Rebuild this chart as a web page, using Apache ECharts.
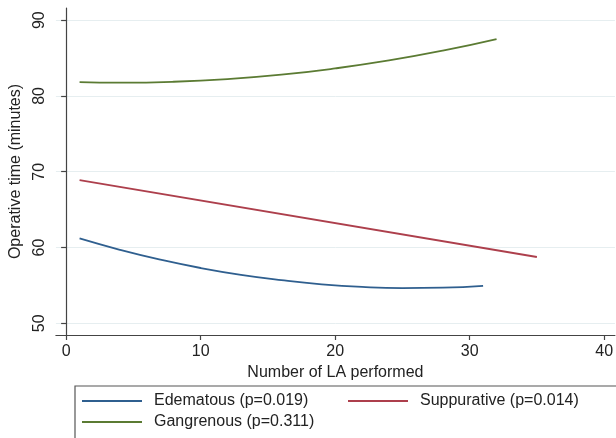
<!DOCTYPE html>
<html>
<head>
<meta charset="utf-8">
<style>
  html, body { margin: 0; padding: 0; background: #fff; }
  #chart { width: 616px; height: 438px; }
</style>
<script src="https://cdn.jsdelivr.net/npm/echarts@6/dist/echarts.min.js"></script>
</head>
<body>
<div id="chart"></div>
<script>
// values
const edemaX = [1, 4, 7, 10, 13, 16, 19, 22, 25, 28, 31]
const edemaY = [61.2, 59.7, 58.4, 57.3, 56.4, 55.7, 55.15, 54.8, 54.65, 54.7, 54.95]
const suppX = [1, 35]
const suppY = [68.9, 58.75]
const gangX = [1, 4, 8, 12, 16, 20, 24, 28, 32]
const gangY = [81.82, 81.75, 81.87, 82.22, 82.8, 83.63, 84.68, 85.97, 87.5]

const xTicks = [0, 10, 20, 30, 40]
const yTicks = [50, 60, 70, 80, 90]

const names = ['Edematous (p=0.019)', 'Suppurative (p=0.014)', 'Gangrenous (p=0.311)']
const colors = ['#2f5f8f', '#ad3f4c', '#5b7b33']

const font = "'Liberation Sans', Arial, sans-serif"

function pairs (xs, ys) {
  return xs.map((x, i) => [x, ys[i]])
}

const chart = echarts.init(document.getElementById('chart'))

const legendText = {fontSize: 16, color: '#222', lineHeight: 18, padding: [0, 0, 0, 7], fontFamily: font}

const option = {
  animation: false,
  color: colors,
  textStyle: {fontFamily: font},
  grid: {
    left: 53,
    right: 0,
    top: 8,
    bottom: 103
  },
  xAxis: {
    type: 'value',
    min: -0.76,
    max: 40.8,
    name: 'Number of LA performed',
    nameLocation: 'middle',
    nameGap: 25,
    nameTextStyle: {fontSize: 16, color: '#222', fontFamily: font},
    axisLine: {lineStyle: {color: '#444', width: 1.2}},
    axisTick: {show: true, length: 5, customValues: xTicks, lineStyle: {color: '#444', width: 1.2}},
    axisLabel: {customValues: xTicks, fontSize: 16, color: '#222', margin: 9, fontFamily: font},
    splitLine: {show: false}
  },
  yAxis: {
    type: 'value',
    min: 48.46,
    max: 91.6,
    name: 'Operative time (minutes)',
    nameLocation: 'middle',
    nameGap: 30,
    nameTextStyle: {fontSize: 16, color: '#222', fontFamily: font},
    axisLine: {show: true, lineStyle: {color: '#444', width: 1.2}},
    axisTick: {show: true, length: 5, customValues: yTicks, lineStyle: {color: '#444', width: 1.2}},
    axisLabel: {customValues: yTicks, rotate: 90, fontSize: 16, color: '#222', margin: 8, fontFamily: font},
    splitLine: {show: true, lineStyle: {color: '#e6eef0', width: 1}}
  },
  legend: [
    {
      left: 82,
      top: 392,
      padding: 0,
      orient: 'vertical',
      itemGap: 3,
      itemWidth: 60,
      itemHeight: 2,
      icon: 'rect',
      data: [names[0], names[2]],
      textStyle: legendText
    },
    {
      left: 348,
      top: 392,
      padding: 0,
      orient: 'vertical',
      itemWidth: 60,
      itemHeight: 2,
      icon: 'rect',
      data: [names[1]],
      textStyle: legendText
    }
  ],
  graphic: [
    {
      type: 'rect',
      shape: {x: 75, y: 386, width: 600, height: 70},
      style: {fill: 'none', stroke: '#555', lineWidth: 1.2}
    }
  ],
  series: [
    {
      name: names[0],
      type: 'line',
      smooth: true,
      showSymbol: false,
      lineStyle: {width: 1.8},
      data: pairs(edemaX, edemaY)
    },
    {
      name: names[1],
      type: 'line',
      showSymbol: false,
      lineStyle: {width: 1.8},
      data: pairs(suppX, suppY)
    },
    {
      name: names[2],
      type: 'line',
      smooth: true,
      showSymbol: false,
      lineStyle: {width: 1.8},
      data: pairs(gangX, gangY)
    }
  ]
}

chart.setOption(option)
</script>
</body>
</html>
